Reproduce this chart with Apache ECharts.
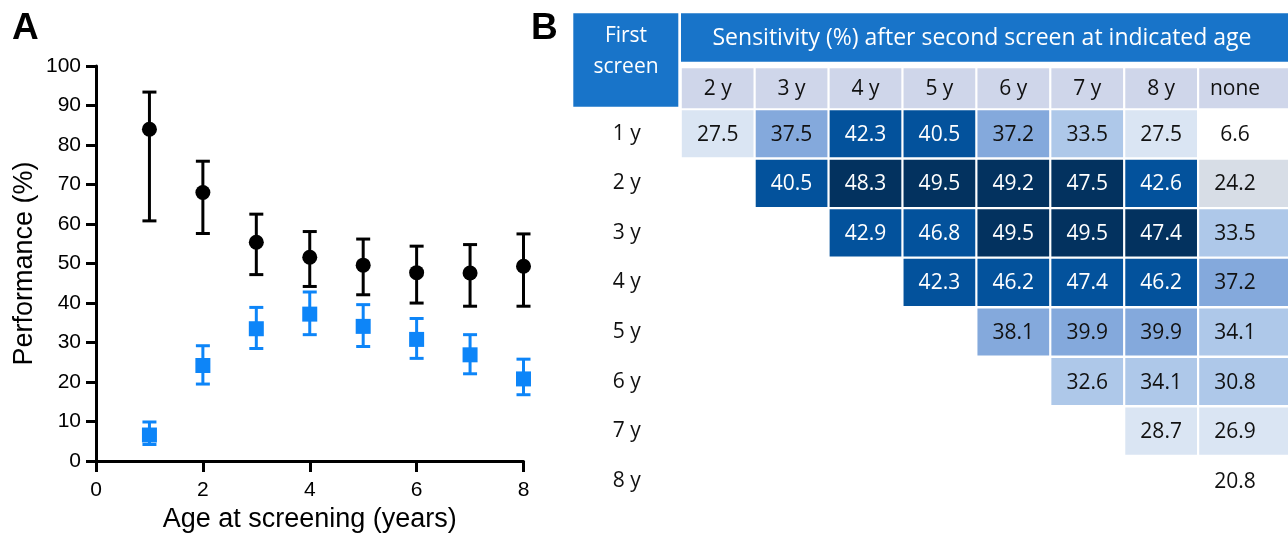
<!DOCTYPE html>
<html><head><meta charset="utf-8">
<script src="https://cdn.jsdelivr.net/npm/echarts@6/dist/echarts.min.js"></script>
<style>html,body{margin:0;padding:0;background:#fff}#c{width:1288px;height:538px}</style>
</head><body><div id="c"></div>
<script>
// ---------- Panel A data ----------
const ages = [1, 2, 3, 4, 5, 6, 7, 8];
const blackMean = [84.0, 68.0, 55.4, 51.6, 49.6, 47.7, 47.6, 49.3];
const blackLow  = [60.8, 57.6, 47.2, 44.2, 42.1, 40.0, 39.2, 39.2];
const blackHigh = [93.4, 75.9, 62.5, 58.1, 56.2, 54.4, 54.8, 57.5];
const blueMean  = [6.6, 24.2, 33.5, 37.2, 34.1, 30.8, 26.9, 20.8];
const blueLow   = [4.2, 19.5, 28.5, 32.0, 29.0, 26.0, 22.1, 16.8];
const blueHigh  = [9.9, 29.2, 38.9, 42.8, 39.6, 36.1, 32.0, 25.8];
const xTicks = [0, 2, 4, 6, 8];

// ---------- Panel B data ----------
const firstScreen  = ['1 y', '2 y', '3 y', '4 y', '5 y', '6 y', '7 y', '8 y'];
const secondScreen = ['2 y', '3 y', '4 y', '5 y', '6 y', '7 y', '8 y', 'none'];
const row1y = [27.5, 37.5, 42.3, 40.5, 37.2, 33.5, 27.5, 6.6];
const row2y = [null, 40.5, 48.3, 49.5, 49.2, 47.5, 42.6, 24.2];
const row3y = [null, null, 42.9, 46.8, 49.5, 49.5, 47.44, 33.5];
const row4y = [null, null, null, 42.3, 46.2, 47.36, 46.2, 37.2];
const row5y = [null, null, null, null, 38.1, 39.9, 39.9, 34.1];
const row6y = [null, null, null, null, null, 32.6, 34.1, 30.8];
const row7y = [null, null, null, null, null, null, 28.7, 26.9];
const row8y = [null, null, null, null, null, null, null, 20.8];
const sensitivityRows = [row1y, row2y, row3y, row4y, row5y, row6y, row7y, row8y];

// ---------- styles ----------
const BLUE = '#0d85f8';
const HEAD = '#1874c9';
const LAV = '#cfd6ea';
const AX = 'Liberation Sans, Arial, sans-serif';
const TB = '"Open Sans", sans-serif';

const blackBars = ages.map((a, i) => [a, blackLow[i], blackHigh[i]]);
const blueBars = ages.map((a, i) => [a, blueLow[i], blueHigh[i]]);
const blackPts = ages.map((a, i) => [a, blackMean[i]]);
const bluePts = ages.map((a, i) => [a, blueMean[i]]);
const cells = [];
sensitivityRows.forEach((row, r) => row.forEach((v, c) => { if (v !== null) cells.push([c, r, v]); }));
const headCells = secondScreen.map((s, i) => [i, 0]);

function errorBar(color) {
  return function (params, api) {
    const x = api.value(0);
    const lo = api.coord([x, api.value(1)]);
    const hi = api.coord([x, api.value(2)]);
    const h = 7;
    const st = { stroke: color, lineWidth: 3 };
    return { type: 'group', children: [
      { type: 'line', shape: { x1: lo[0], y1: lo[1], x2: hi[0], y2: hi[1] }, style: st },
      { type: 'line', shape: { x1: lo[0] - h, y1: lo[1], x2: lo[0] + h, y2: lo[1] }, style: st },
      { type: 'line', shape: { x1: hi[0] - h, y1: hi[1], x2: hi[0] + h, y2: hi[1] }, style: st }
    ]};
  };
}

function cellItem(params, api) {
  const ci = api.value(0);
  const p = api.coord([ci, api.value(1)]);
  const s = api.size([1, 1]);
  const x = p[0] - s[0] / 2 + 1.1, y = p[1] - s[1] / 2 + 1.2;
  let w = s[0] - 2.2;
  const hgt = s[1] - 2.4;
  if (ci === secondScreen.length - 1) w = api.getWidth() - x;
  const v = api.value(2);
  return { type: 'group', children: [
    { type: 'rect', shape: { x: x, y: y, width: w, height: hgt }, style: { fill: api.visual('color') } },
    { type: 'text', style: { text: v.toFixed(1), x: p[0], y: p[1] + 1, align: 'center', verticalAlign: 'middle',
      fill: v >= 40 ? '#ffffff' : '#111111', font: '21px ' + TB } }
  ]};
}

function headItem(params, api) {
  const ci = api.value(0);
  const p = api.coord([ci, 0]);
  const s = api.size([1, 1]);
  const x = p[0] - s[0] / 2 + 1.1, y = p[1] - s[1] / 2 + 1;
  let w = s[0] - 2.2;
  if (ci === secondScreen.length - 1) w = api.getWidth() - x;
  return { type: 'group', children: [
    { type: 'rect', shape: { x: x, y: y, width: w, height: s[1] - 2 }, style: { fill: LAV } },
    { type: 'text', style: { text: secondScreen[ci], x: p[0], y: p[1] + 1, align: 'center', verticalAlign: 'middle',
      fill: '#111111', font: '21px ' + TB } }
  ]};
}

const chart = echarts.init(document.getElementById('c'));
chart.setOption({
  animation: false,
  backgroundColor: '#ffffff',
  grid: [
    { left: 96, right: 764.5, top: 66, bottom: 75.7 },
    { left: 680.7, right: 16, top: 67.3, height: 42 },
    { left: 680.7, right: 16, top: 109, height: 396.4 }
  ],
  xAxis: [
    { gridIndex: 0, type: 'value', min: 0, max: 8, interval: 2,
      axisLine: { lineStyle: { color: '#000', width: 3 } },
      axisTick: { length: 11, lineStyle: { color: '#000', width: 3 } },
      axisLabel: { color: '#000', fontSize: 21, fontFamily: AX, margin: 19,
        formatter: v => xTicks.includes(v) ? String(v) : '' },
      splitLine: { show: false },
      name: 'Age at screening (years)', nameLocation: 'middle', nameGap: 44,
      nameTextStyle: { color: '#000', fontSize: 27, fontFamily: AX } },
    { gridIndex: 1, type: 'category', data: secondScreen, show: false },
    { gridIndex: 2, type: 'category', data: secondScreen, show: false }
  ],
  yAxis: [
    { gridIndex: 0, type: 'value', min: 0, max: 100, interval: 10,
      axisLine: { show: true, lineStyle: { color: '#000', width: 3 } },
      axisTick: { show: true, length: 10, lineStyle: { color: '#000', width: 3 } },
      axisLabel: { color: '#000', fontSize: 21, fontFamily: AX, margin: 15 },
      splitLine: { show: false },
      name: 'Performance (%)', nameLocation: 'middle', nameGap: 58,
      nameTextStyle: { color: '#000', fontSize: 27, fontFamily: AX } },
    { gridIndex: 1, type: 'category', data: [''], show: false },
    { gridIndex: 2, type: 'category', data: firstScreen, inverse: true,
      axisLine: { show: false }, axisTick: { show: false }, splitLine: { show: false },
      axisLabel: { color: '#111', fontSize: 21, fontFamily: TB, align: 'center', margin: 54 } }
  ],
  visualMap: {
    type: 'piecewise', show: false, seriesIndex: 5, dimension: 2,
    pieces: [
      { lt: 22, color: '#ffffff' },
      { gte: 22, lt: 26, color: '#d7dde6' },
      { gte: 26, lt: 30, color: '#dae5f3' },
      { gte: 30, lt: 35, color: '#aec8e9' },
      { gte: 35, lt: 40, color: '#84a9dc' },
      { gte: 40, lt: 47.4, color: '#03529c' },
      { gte: 47.4, color: '#03325f' }
    ]
  },
  graphic: [
    { type: 'text', left: 12, top: 10, style: { text: 'A', font: 'bold 37px ' + AX, fill: '#000' } },
    { type: 'text', left: 531, top: 10, style: { text: 'B', font: 'bold 37px ' + AX, fill: '#000' } },
    { type: 'rect', shape: { x: 573.3, y: 13.3, width: 105, height: 93.4 }, style: { fill: HEAD } },
    { type: 'text', x: 626, y: 52, style: { text: 'First\nscreen', font: '21px ' + TB, fill: '#fff',
      align: 'center', verticalAlign: 'middle', lineHeight: 31 } },
    { type: 'rect', shape: { x: 681, y: 13.3, width: 610, height: 48.4 }, style: { fill: HEAD } },
    { type: 'text', x: 982, y: 38, style: { text: 'Sensitivity (%) after second screen at indicated age',
      font: '23px ' + TB, fill: '#fff', align: 'center', verticalAlign: 'middle' } }
  ],
  series: [
    { type: 'custom', xAxisIndex: 0, yAxisIndex: 0, renderItem: errorBar('#000'), data: blackBars, encode: { x: 0, y: [1, 2] }, z: 2 },
    { type: 'custom', xAxisIndex: 0, yAxisIndex: 0, renderItem: errorBar(BLUE), data: blueBars, encode: { x: 0, y: [1, 2] }, z: 2 },
    { type: 'scatter', xAxisIndex: 0, yAxisIndex: 0, data: blackPts, symbol: 'circle', symbolSize: 15,
      itemStyle: { color: '#000', opacity: 1 }, z: 3 },
    { type: 'scatter', xAxisIndex: 0, yAxisIndex: 0, data: bluePts, symbol: 'rect', symbolSize: 15,
      itemStyle: { color: BLUE, opacity: 1 }, z: 3 },
    { type: 'custom', xAxisIndex: 1, yAxisIndex: 1, renderItem: headItem, data: headCells, encode: { x: 0, y: 1 } },
    { type: 'custom', xAxisIndex: 2, yAxisIndex: 2, renderItem: cellItem, data: cells, encode: { x: 0, y: 1 } }
  ]
});
</script></body></html>
